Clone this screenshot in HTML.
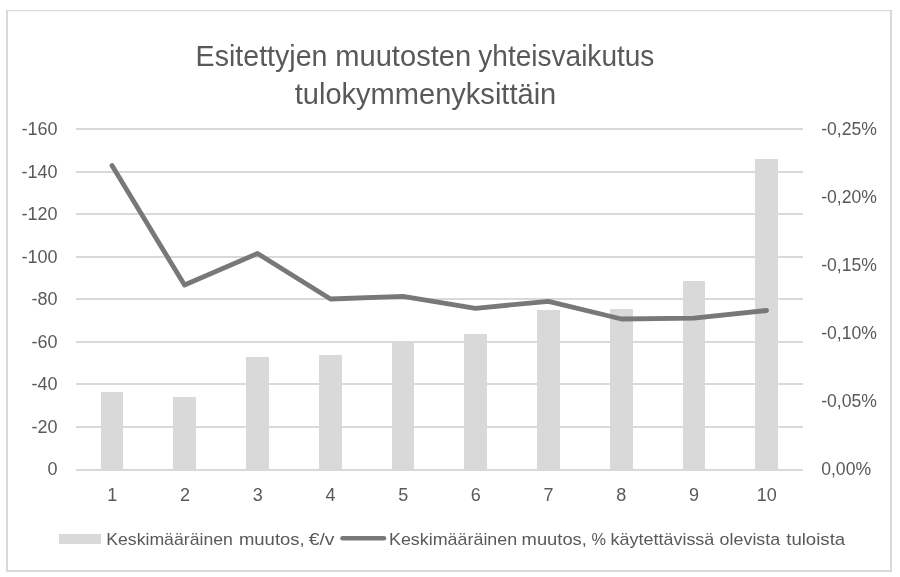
<!DOCTYPE html>
<html><head><meta charset="utf-8"><style>
html,body{margin:0;padding:0;background:#fff;}
svg{display:block;will-change:transform;}
.ax{font-family:"Liberation Sans", sans-serif;font-size:18px;fill:#595959;}
.ti{font-family:"Liberation Sans", sans-serif;font-size:29px;fill:#595959;}
.lg{font-family:"Liberation Sans", sans-serif;font-size:17px;fill:#595959;}
</style></head><body>
<svg width="900" height="577" viewBox="0 0 900 577">
<rect x="6" y="10" width="886" height="1.25" fill="#d9d9d9"/>
<rect x="6" y="10" width="2" height="562" fill="#d9d9d9"/>
<rect x="890" y="10" width="2" height="562" fill="#d9d9d9"/>
<rect x="6" y="570" width="886" height="2" fill="#d9d9d9"/>
<rect x="76" y="469" width="727" height="2" fill="#d9d9d9"/>
<rect x="76" y="426" width="727" height="2" fill="#d9d9d9"/>
<rect x="76" y="383" width="727" height="2" fill="#d9d9d9"/>
<rect x="76" y="341" width="727" height="2" fill="#d9d9d9"/>
<rect x="76" y="298" width="727" height="2" fill="#d9d9d9"/>
<rect x="76" y="256" width="727" height="2" fill="#d9d9d9"/>
<rect x="76" y="213" width="727" height="2" fill="#d9d9d9"/>
<rect x="76" y="171" width="727" height="2" fill="#d9d9d9"/>
<rect x="76" y="128" width="727" height="2" fill="#d9d9d9"/>
<rect x="101" y="392" width="22" height="78" fill="#d9d9d9"/>
<rect x="173" y="397" width="23" height="73" fill="#d9d9d9"/>
<rect x="246" y="357" width="23" height="113" fill="#d9d9d9"/>
<rect x="319" y="355" width="23" height="115" fill="#d9d9d9"/>
<rect x="392" y="341" width="22" height="129" fill="#d9d9d9"/>
<rect x="464" y="334" width="23" height="136" fill="#d9d9d9"/>
<rect x="537" y="310" width="23" height="160" fill="#d9d9d9"/>
<rect x="610" y="309" width="23" height="161" fill="#d9d9d9"/>
<rect x="683" y="281" width="22" height="189" fill="#d9d9d9"/>
<rect x="755" y="159" width="23" height="311" fill="#d9d9d9"/>
<polyline points="112.00,165.60 184.50,285.00 257.50,253.50 330.50,299.00 403.00,296.30 475.50,308.30 548.50,301.30 621.50,319.00 694.00,318.10 766.50,310.50" fill="none" stroke="#787878" stroke-width="4.8" stroke-linejoin="round" stroke-linecap="round"/>
<text x="57.5" y="475.1" text-anchor="end" class="ax">0</text>
<text x="57.5" y="432.6" text-anchor="end" class="ax">-20</text>
<text x="57.5" y="390.1" text-anchor="end" class="ax">-40</text>
<text x="57.5" y="347.5" text-anchor="end" class="ax">-60</text>
<text x="57.5" y="305.0" text-anchor="end" class="ax">-80</text>
<text x="57.5" y="262.5" text-anchor="end" class="ax">-100</text>
<text x="57.5" y="220.0" text-anchor="end" class="ax">-120</text>
<text x="57.5" y="177.5" text-anchor="end" class="ax">-140</text>
<text x="57.5" y="134.9" text-anchor="end" class="ax">-160</text>
<text x="821.2" y="475.1" class="ax" style="font-size:17.6px">0,00%</text>
<text x="821.2" y="407.1" class="ax" style="font-size:17.6px">-0,05%</text>
<text x="821.2" y="339.0" class="ax" style="font-size:17.6px">-0,10%</text>
<text x="821.2" y="271.0" class="ax" style="font-size:17.6px">-0,15%</text>
<text x="821.2" y="203.0" class="ax" style="font-size:17.6px">-0,20%</text>
<text x="821.2" y="135.0" class="ax" style="font-size:17.6px">-0,25%</text>
<text x="112.35" y="501" text-anchor="middle" class="ax">1</text>
<text x="185.05" y="501" text-anchor="middle" class="ax">2</text>
<text x="257.75" y="501" text-anchor="middle" class="ax">3</text>
<text x="330.45" y="501" text-anchor="middle" class="ax">4</text>
<text x="403.15" y="501" text-anchor="middle" class="ax">5</text>
<text x="475.85" y="501" text-anchor="middle" class="ax">6</text>
<text x="548.55" y="501" text-anchor="middle" class="ax">7</text>
<text x="621.25" y="501" text-anchor="middle" class="ax">8</text>
<text x="693.95" y="501" text-anchor="middle" class="ax">9</text>
<text x="766.65" y="501" text-anchor="middle" class="ax">10</text>
<text x="195.58" y="66" class="ti" textLength="131.89" lengthAdjust="spacingAndGlyphs">Esitettyjen</text>
<text x="335.24" y="66" class="ti" textLength="135.93" lengthAdjust="spacingAndGlyphs">muutosten</text>
<text x="478.3" y="66" class="ti" textLength="176.08" lengthAdjust="spacingAndGlyphs">yhteisvaikutus</text>
<text x="294.75" y="104" class="ti" textLength="261.5" lengthAdjust="spacingAndGlyphs">tulokymmenyksittäin</text>
<text x="106.2" y="544.5" class="lg" textLength="126.7" lengthAdjust="spacingAndGlyphs">Keskimääräinen</text>
<text x="238.91" y="544.5" class="lg" textLength="65.8" lengthAdjust="spacingAndGlyphs">muutos,</text>
<text x="308.7" y="544.5" class="lg" textLength="25.73" lengthAdjust="spacingAndGlyphs">€/v</text>
<text x="388.99" y="544.5" class="lg" textLength="128.23" lengthAdjust="spacingAndGlyphs">Keskimääräinen</text>
<text x="521.62" y="544.5" class="lg" textLength="65.28" lengthAdjust="spacingAndGlyphs">muutos,</text>
<text x="591.52" y="544.5" class="lg" textLength="14.48" lengthAdjust="spacingAndGlyphs">%</text>
<text x="610.64" y="544.5" class="lg" textLength="103.67" lengthAdjust="spacingAndGlyphs">käytettävissä</text>
<text x="719.61" y="544.5" class="lg" textLength="60.57" lengthAdjust="spacingAndGlyphs">olevista</text>
<text x="786.23" y="544.5" class="lg" textLength="58.94" lengthAdjust="spacingAndGlyphs">tuloista</text>
<rect x="59" y="534" width="42" height="10" fill="#d9d9d9"/>
<line x1="342.5" y1="538.3" x2="384" y2="538.3" stroke="#787878" stroke-width="4.5" stroke-linecap="round"/>
</svg>
</body></html>
